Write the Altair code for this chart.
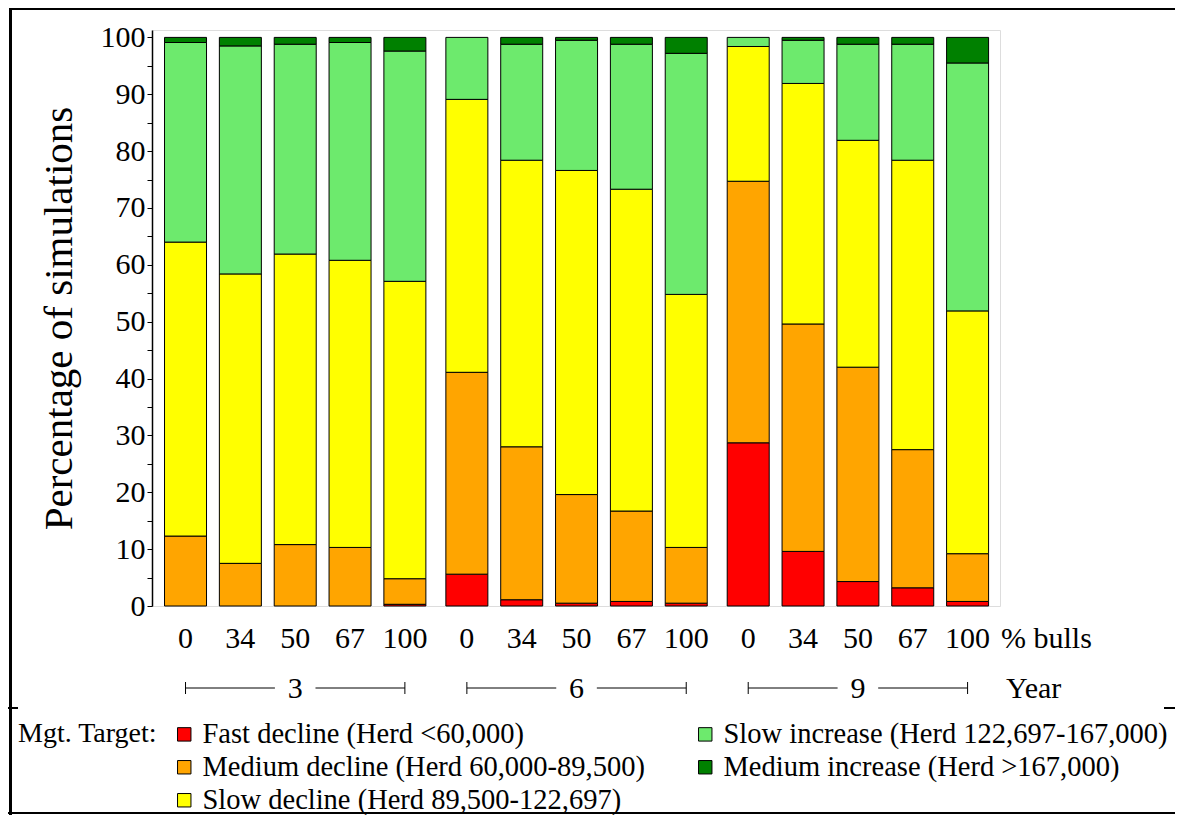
import altair as alt
import pandas as pd

years = ["3", "6", "9"]
bulls = ["0", "34", "50", "67", "100"]
categories = [
    "Fast decline (Herd <60,000)",
    "Medium decline (Herd 60,000-89,500)",
    "Slow decline (Herd 89,500-122,697)",
    "Slow increase (Herd 122,697-167,000)",
    "Medium increase (Herd >167,000)",
]
colors = ["#ff0000", "#ffa500", "#ffff00", "#6dea6d", "#008000"]

# values per bar: year 3 (0,34,50,67,100), year 6 (...), year 9 (...)
fast_decline = [0, 0, 0, 0, 0.3, 5.6, 1.1, 0.5, 0.8, 0.5, 28.7, 9.6, 4.3, 3.2, 0.8]
medium_decline = [12.3, 7.5, 10.8, 10.3, 4.5, 35.5, 26.9, 19.1, 15.9, 9.8, 46.0, 40.0, 37.7, 24.3, 8.4]
slow_decline = [51.7, 50.9, 51.1, 50.5, 52.3, 48.0, 50.4, 57.0, 56.6, 44.5, 23.7, 42.3, 39.9, 50.9, 42.7]
slow_increase = [35.1, 40.1, 36.9, 38.3, 40.5, 10.9, 20.4, 22.9, 25.5, 42.4, 1.6, 7.6, 16.9, 20.4, 43.6]
medium_increase = [0.9, 1.5, 1.2, 0.9, 2.4, 0, 1.2, 0.5, 1.2, 2.8, 0, 0.5, 1.2, 1.2, 4.5]

series = [fast_decline, medium_decline, slow_decline, slow_increase, medium_increase]

GROUP_STEP = 5.13  # five bars plus a small gap between year groups

rows = []
bar_rows = []
for gi, yr in enumerate(years):
    for bi, b in enumerate(bulls):
        idx = gi * len(bulls) + bi
        pos = gi * GROUP_STEP + bi
        bar_rows.append({"pos": pos, "label": b})
        for k, (cat, vals) in enumerate(zip(categories, series)):
            rows.append({"pos": pos, "year": yr, "bulls": b, "cat": cat, "k": k, "value": vals[idx]})
df = pd.DataFrame(rows)
df_labels = pd.DataFrame(bar_rows)

grp_rows = []
for gi, yr in enumerate(years):
    start = gi * GROUP_STEP
    end = start + len(bulls) - 1
    mid = (start + end) / 2
    grp_rows.append({"year": yr, "start": start, "end": end, "mid": mid,
                     "l2": mid - 0.37, "r1": mid + 0.37})
df_grp = pd.DataFrame(grp_rows)

FONT = "Liberation Serif"
W, H = 848, 576

xscale = alt.Scale(domain=[-0.52, 14.76], nice=False, zero=False)

bars = alt.Chart(df).transform_filter("datum.value > 0").mark_bar(
    size=42, stroke="black", strokeWidth=1
).encode(
    x=alt.X("pos:Q", scale=xscale, axis=None),
    y=alt.Y(
        "value:Q",
        stack="zero",
        scale=alt.Scale(domain=[0, 101.3], nice=False),
        axis=alt.Axis(
            values=list(range(0, 101, 5)),
            labelExpr="datum.value % 10 === 0 ? datum.label : ''",
            title="Percentage of simulations",
            grid=False,
            domainColor="black",
            domainWidth=1.5,
            tickColor="black",
            tickSize=5,
            labelFont=FONT,
            labelFontSize=30,
            labelColor="black",
            labelPadding=2,
            titleFont=FONT,
            titleFontSize=41,
            titleFontWeight="normal",
            titleColor="black",
            titlePadding=20,
        ),
    ),
    color=alt.Color(
        "cat:N",
        scale=alt.Scale(domain=categories, range=colors),
        legend=alt.Legend(
            orient="none",
            legendX=-134,
            legendY=690,
            direction="vertical",
            columns=2,
            title="Mgt. Target:",
            titleOrient="left",
            titleAnchor="start",
            titleBaseline="top",
            titleFont=FONT,
            titleFontSize=28,
            titleFontWeight="normal",
            titleColor="black",
            titlePadding=12,
            labelFont=FONT,
            labelFontSize=28.5,
            labelColor="black",
            labelLimit=900,
            labelOffset=4,
            symbolType="square",
            symbolSize=180,
            symbolStrokeColor="black",
            symbolStrokeWidth=1,
            columnPadding=46,
            rowPadding=4,
        ),
    ),
    order=alt.Order("k:Q", sort="ascending"),
)

bull_text = alt.Chart(df_labels).mark_text(
    font=FONT, fontSize=30, color="black", baseline="middle", align="center"
).encode(
    x=alt.X("pos:Q", scale=xscale),
    y=alt.value(609),
    text="label:N",
)

grp_left = alt.Chart(df_grp).mark_rule(color="black", strokeWidth=1).encode(
    x=alt.X("start:Q", scale=xscale), x2="l2:Q", y=alt.value(658)
)
grp_right = alt.Chart(df_grp).mark_rule(color="black", strokeWidth=1).encode(
    x=alt.X("r1:Q", scale=xscale), x2="end:Q", y=alt.value(658)
)
cap_start = alt.Chart(df_grp).mark_rule(color="black", strokeWidth=1).encode(
    x=alt.X("start:Q", scale=xscale), y=alt.value(652), y2=alt.value(664)
)
cap_end = alt.Chart(df_grp).mark_rule(color="black", strokeWidth=1).encode(
    x=alt.X("end:Q", scale=xscale), y=alt.value(652), y2=alt.value(664)
)
grp_text = alt.Chart(df_grp).mark_text(
    font=FONT, fontSize=30, color="black", baseline="middle", align="center"
).encode(
    x=alt.X("mid:Q", scale=xscale),
    y=alt.value(659),
    text="year:N",
)

one = pd.DataFrame({"a": [0]})
bulls_title = alt.Chart(one).mark_text(
    font=FONT, fontSize=30, color="black", baseline="middle", align="left", text="% bulls"
).encode(x=alt.value(849), y=alt.value(609))
year_title = alt.Chart(one).mark_text(
    font=FONT, fontSize=30, color="black", baseline="middle", align="left", text="Year"
).encode(x=alt.value(854), y=alt.value(659))


def frame_piece(x0, x1, y0, y1):
    return alt.Chart(one).mark_rect(color="black", strokeWidth=0).encode(
        x=alt.value(x0), x2=alt.value(x1), y=alt.value(y0), y2=alt.value(y1)
    )


frame_left = frame_piece(-143, -140, -21, 785)
frame_top = frame_piece(-143, 1100, -22, -20)
frame_bottom = frame_piece(-144, 1100, 782, 784)
sep_left = frame_piece(-144, -134, 677, 679)
sep_right = frame_piece(1012, 1100, 677, 679)

chart = alt.layer(
    bars, bull_text, grp_left, grp_right, cap_start, cap_end, grp_text,
    bulls_title, year_title, frame_left, frame_top, frame_bottom, sep_left, sep_right,
).properties(
    width=W,
    height=H,
    autosize="none",
    padding={"left": 144, "top": 22, "right": 175, "bottom": 209},
).configure_view(
    stroke="#6e6e6e", strokeWidth=2
).configure(background="white")

chart.save("out.html", embed_options={"renderer": "svg", "actions": False})
